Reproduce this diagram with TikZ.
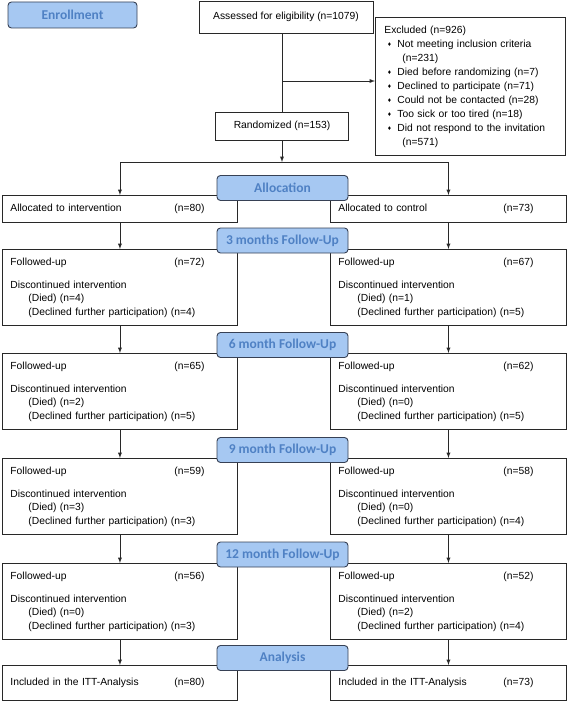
\documentclass[tikz,border=0pt]{standalone}
\usepackage{fontspec}
\setmainfont{Liberation Sans}
\newfontfamily\stagefont{Carlito}

\definecolor{stagefill}{RGB}{166,200,242}
\definecolor{stagetext}{RGB}{79,129,196}
\definecolor{stageline}{RGB}{55,65,85}
\definecolor{boxline}{RGB}{40,40,40}

\newcommand{\bul}{\makebox[13pt][l]{\hspace{3.5pt}\raisebox{0.8pt}{\fontsize{6.5}{6.5}\selectfont ♦}}}

\tikzset{
  box/.style={draw=boxline, line width=0.9pt, anchor=north west, inner ysep=0pt, inner xsep=8pt,
    align=left, font=\fontsize{10.3}{13.5}\selectfont},
  fubox/.style={box, minimum height=76pt},
  stage/.style={draw=stageline, line width=0.9pt, fill=stagefill, rounded corners=3.5pt,
    minimum width=131pt, minimum height=25pt, inner sep=0pt, text=stagetext,
    font=\stagefont\bfseries\fontsize{13.5}{14}\selectfont}
}

\begin{document}
\begin{tikzpicture}[x=1pt, y=-1pt]
  \useasboundingbox (0,0) rectangle (567,701);

  % enrollment
  \node [stage, minimum width=129pt, minimum height=26pt] (enroll) at (72.5,15) {Enrollment};
  \node [box, anchor=center, align=center, minimum width=174pt, minimum height=32pt] (assess) at (286,17) {Assessed for eligibility (n=1079)};
  \node [box, anchor=center, align=center, minimum width=133pt, minimum height=28pt] (rand) at (282,126) {Randomized (n=153)};
  \node [box, inner xsep=9pt, text width=172pt, minimum height=138pt, font=\fontsize{10.3}{14}\selectfont] (excl) at (375,17) {Excluded (n=926)\\
    \bul Not meeting inclusion criteria\\
    \hspace*{18pt}(n=231)\\
    \bul Died before randomizing (n=7)\\
    \bul Declined to participate (n=71)\\
    \bul Could not be contacted (n=28)\\
    \bul Too sick or too tired (n=18)\\
    \bul Did not respond to the invitation\\
    \hspace*{18pt}(n=571)};
  \coordinate (exbranch) at (282,81);
  \coordinate (split) at (282,162);
  \draw [boxline, line width=0.9pt] (assess.south -| rand.north) -- (rand.north);
  \draw [boxline, line width=0.9pt, -latex] (exbranch) -- (exbranch -| excl.west);
  \draw [boxline, line width=0.9pt, -latex] (rand) -- (split);

  % allocation
  \node [box, text width=219pt, minimum height=27pt] (intalloc) at (2,195) {\makebox[164pt][l]{Allocated to intervention}(n=80)};
  \node [box, text width=220pt, minimum height=27pt] (conalloc) at (330,195) {\makebox[165pt][l]{Allocated to control}(n=73)};
  \draw [boxline, line width=0.9pt, -latex] (split) -| (intalloc);
  \draw [boxline, line width=0.9pt, -latex] (split) -| (conalloc);

  % follow-up
  \node [fubox, text width=219pt] (int3) at (2,249) {\makebox[164pt][l]{Followed-up}(n=72)\\[9.5pt]
    Discontinued intervention\\ \hspace*{18pt}(Died) (n=4)\\ \hspace*{18pt}(Declined further participation) (n=4)};
  \node [fubox, text width=220pt] (con3) at (330,249) {\makebox[165pt][l]{Followed-up}(n=67)\\[9.5pt]
    Discontinued intervention\\ \hspace*{19pt}(Died) (n=1)\\ \hspace*{19pt}(Declined further participation) (n=5)};
  \node [fubox, text width=219pt] (int6) at (2,353) {\makebox[164pt][l]{Followed-up}(n=65)\\[9.5pt]
    Discontinued intervention\\ \hspace*{18pt}(Died) (n=2)\\ \hspace*{18pt}(Declined further participation) (n=5)};
  \node [fubox, text width=220pt] (con6) at (330,353) {\makebox[165pt][l]{Followed-up}(n=62)\\[9.5pt]
    Discontinued intervention\\ \hspace*{19pt}(Died) (n=0)\\ \hspace*{19pt}(Declined further participation) (n=5)};
  \node [fubox, text width=219pt] (int9) at (2,458) {\makebox[164pt][l]{Followed-up}(n=59)\\[9.5pt]
    Discontinued intervention\\ \hspace*{18pt}(Died) (n=3)\\ \hspace*{18pt}(Declined further participation) (n=3)};
  \node [fubox, text width=220pt] (con9) at (330,458) {\makebox[165pt][l]{Followed-up}(n=58)\\[9.5pt]
    Discontinued intervention\\ \hspace*{19pt}(Died) (n=0)\\ \hspace*{19pt}(Declined further participation) (n=4)};
  \node [fubox, text width=219pt] (int12) at (2,563) {\makebox[164pt][l]{Followed-up}(n=56)\\[9.5pt]
    Discontinued intervention\\ \hspace*{18pt}(Died) (n=0)\\ \hspace*{18pt}(Declined further participation) (n=3)};
  \node [fubox, text width=220pt] (con12) at (330,563) {\makebox[165pt][l]{Followed-up}(n=52)\\[9.5pt]
    Discontinued intervention\\ \hspace*{19pt}(Died) (n=2)\\ \hspace*{19pt}(Declined further participation) (n=4)};

  % analysis
  \node [box, text width=219pt, minimum height=35pt] (intitt) at (2,665) {\makebox[164pt][l]{Included in the ITT-Analysis}(n=80)};
  \node [box, text width=220pt, minimum height=35pt] (conitt) at (330,665) {\makebox[165pt][l]{Included in the ITT-Analysis}(n=73)};

  \draw [boxline, line width=0.9pt, -latex] (intalloc) -- (int3);
  \draw [boxline, line width=0.9pt, -latex] (conalloc) -- (con3);
  \draw [boxline, line width=0.9pt, -latex] (int3) -- (int6);
  \draw [boxline, line width=0.9pt, -latex] (con3) -- (con6);
  \draw [boxline, line width=0.9pt, -latex] (int6) -- (int9);
  \draw [boxline, line width=0.9pt, -latex] (con6) -- (con9);
  \draw [boxline, line width=0.9pt, -latex] (int9) -- (int12);
  \draw [boxline, line width=0.9pt, -latex] (con9) -- (con12);
  \draw [boxline, line width=0.9pt, -latex] (int12) -- (intitt);
  \draw [boxline, line width=0.9pt, -latex] (con12) -- (conitt);

  % stage labels
  \node [stage] (lblalloc) at (282.5,188) {Allocation};
  \node [stage] (lbl3) at (282.5,240.5) {3 months Follow-Up};
  \node [stage] (lbl6) at (282.5,345) {6 month Follow-Up};
  \node [stage] (lbl9) at (282.5,450) {9 month Follow-Up};
  \node [stage] (lbl12) at (282.5,554.5) {12 month Follow-Up};
  \node [stage] (lblitt) at (282.5,658) {Analysis};
\end{tikzpicture}
\end{document}
